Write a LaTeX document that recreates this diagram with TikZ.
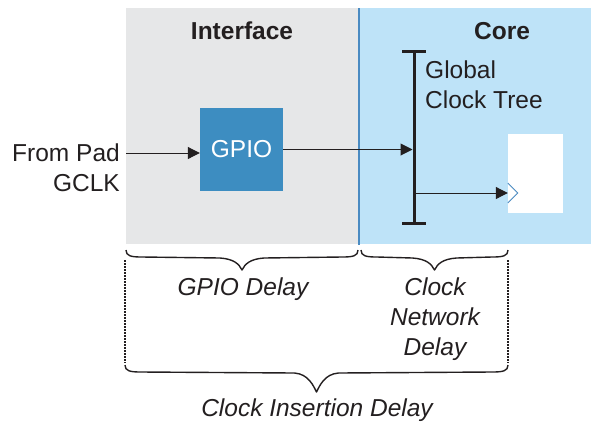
\documentclass[tikz,border=0pt]{standalone}
\usepackage{fontspec}
\setmainfont{Liberation Sans}
\usetikzlibrary{arrows.meta,calc}
\definecolor{panelgray}{HTML}{E6E7E8}
\definecolor{panelblue}{HTML}{BEE3F8}
\definecolor{gpioblue}{HTML}{3D8DC1}
\definecolor{divblue}{HTML}{4A8BC2}
\definecolor{ink}{HTML}{231F20}
\newcommand{\curlybr}[4]{% x0 x1 ytop ytip
 \draw[bracestyle] (#1,#3) .. controls (#1,{#3+6}) and ({#1+5},{#3+7}) .. ({#1+16},{#3+7})
   -- ({(#1+#2)/2-22},{#3+8}) .. controls ({(#1+#2)/2-8},{#3+9}) and ({(#1+#2)/2-3},{#4-6}) .. ({(#1+#2)/2},#4)
   .. controls ({(#1+#2)/2+3},{#4-6}) and ({(#1+#2)/2+8},{#3+9}) .. ({(#1+#2)/2+22},{#3+8})
   -- ({#2-16},{#3+7}) .. controls ({#2-5},{#3+7}) and (#2,{#3+6}) .. (#2,#3);}
\begin{document}
\begin{tikzpicture}[x=1pt,y=-1pt,
  txt/.style={font=\fontsize{24.5}{30}\selectfont, inner sep=0pt, text=ink},
  ittxt/.style={font=\fontsize{24.5}{30}\selectfont\itshape, inner sep=0pt, text=ink},
  title/.style={font=\fontsize{24.5}{30}\selectfont\bfseries, inner sep=0pt, text=ink, anchor=base},
  conn/.style={draw=ink, line width=1pt, -{Triangle[length=12pt,width=12pt]}},
  bracestyle/.style={draw=ink, line width=1.4pt, line join=round},
  dotline/.style={draw=ink, line width=1.3pt, dash pattern=on 1.5pt off 1.5pt},
  barline/.style={draw=ink, line width=3pt}]
\useasboundingbox (0,0) rectangle (591,421);
% panels
\fill[panelgray] (126,8) rectangle (359,244);
\fill[panelblue] (359,8) rectangle (591,244);
\draw[divblue, line width=1.5pt] (359,8) -- (359,245);
% titles
\node[title] (iface) at (242,39) {Interface};
\node[title] (core) at (502,39) {Core};
% input label (base anchor = last line)
\node[txt, align=right, anchor=base east] (pad) at (120,191) {From Pad\\GCLK};
% GPIO
\node[fill=gpioblue, minimum width=83pt, minimum height=83pt, inner sep=0pt, text=white,
      font=\fontsize{24.5}{30}\selectfont] (gpio) at (241.5,149.5) {GPIO};
\coordinate (padout) at (126,153);
\draw[conn] (padout) -- (padout -| gpio.west);
% clock tree bar
\coordinate (bartop) at (414,51);
\coordinate (barbot) at (414,223);
\coordinate (branch) at (414,193);
\draw[barline] (bartop) -- (barbot);
\draw[barline] ([xshift=-12pt]bartop) -- ([xshift=12pt]bartop);
\draw[barline] ([xshift=-12pt]barbot) -- ([xshift=12pt]barbot);
\node[txt, align=left, anchor=base west] (gct) at (425,108) {Global\\Clock Tree};
\draw[conn, shorten >=1.5pt] (gpio.east) -- (gpio.east -| bartop);
% flip-flop
\node[fill=white, minimum width=55pt, minimum height=79pt, inner sep=0pt] (ff) at (535.5,173.5) {};
\draw[conn] (branch) -- (branch -| ff.west);
\draw[divblue, line width=0.8pt] ($(ff.west |- branch)+(0,-10)$) -- ($(ff.west |- branch)+(10,0)$) -- ($(ff.west |- branch)+(0,10)$);
% braces and delays
\curlybr{126}{358}{250}{270}
\curlybr{361}{508}{250}{270}
\coordinate (dl1) at (125,260); \coordinate (dl2) at (125,363);
\coordinate (dr1) at (508,260); \coordinate (dr2) at (508,363);
\draw[dotline] (dl1) -- (dl2);
\draw[dotline] (dr1) -- (dr2);
\curlybr{125}{508}{365}{392}
\node[ittxt, anchor=base] (gd) at (243,295) {GPIO Delay};
\node[ittxt, align=center, anchor=base] (cnd) at (435,355) {Clock\\Network\\Delay};
\node[ittxt, anchor=base] (cid) at (317,416) {Clock Insertion Delay};
\end{tikzpicture}
\end{document}
